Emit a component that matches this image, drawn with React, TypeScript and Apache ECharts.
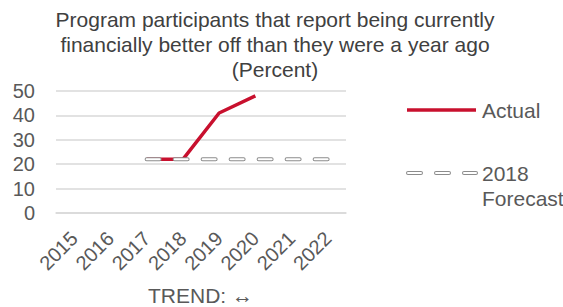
import React, { useEffect, useRef } from "react";
import * as echarts from "echarts";

const years = ["2015", "2016", "2017", "2018", "2019", "2020", "2021", "2022"];
const actual: (number | null)[] = [null, null, 22, 22, 41, 48, null, null];
const forecast: (number | null)[] = [null, null, 22, 22, 22, 22, 22, 22];
const yTicks = { min: 0, max: 50, interval: 10 };
const titleLines = [
  "Program participants that report being currently",
  "financially better off than they were a year ago",
  "(Percent)",
];

const RED = "#c8102e";
const GRAY_TXT = "#595959";
const FONT = "'Liberation Sans', Arial, sans-serif";

export default function App() {
  const ref = useRef<HTMLDivElement>(null);
  useEffect(() => {
    if (!ref.current) return;
    const chart = echarts.init(ref.current, null, { renderer: "svg" });
    const titleY = [19, 44, 69];
    chart.setOption({
      animation: false,
      backgroundColor: "#ffffff",
      textStyle: { fontFamily: FONT },
      grid: { left: 56, right: 217, top: 91, bottom: 94, containLabel: false },
      xAxis: {
        type: "category",
        data: years,
        boundaryGap: true,
        axisLine: { show: true, lineStyle: { color: "#d9d9d9", width: 1.5 } },
        axisTick: { show: false },
        axisLabel: { rotate: 45, fontSize: 20, color: GRAY_TXT, margin: 22, fontFamily: FONT, interval: 0 },
      },
      yAxis: {
        type: "value",
        min: yTicks.min,
        max: yTicks.max,
        interval: yTicks.interval,
        axisLine: { show: false },
        axisTick: { show: false },
        splitLine: { lineStyle: { color: "#d9d9d9", width: 1.5 } },
        axisLabel: { fontSize: 20, color: GRAY_TXT, margin: 21, fontFamily: FONT },
      },
      series: [
        {
          name: "Actual",
          type: "line",
          data: actual,
          showSymbol: false,
          lineStyle: { color: RED, width: 3.5 },
          itemStyle: { color: RED },
          z: 2,
        },
        {
          name: "2018 Forecast outline",
          type: "line",
          data: forecast,
          showSymbol: false,
          lineStyle: { color: "#8c8c8c", width: 4, type: [13, 15], cap: "round" },
          z: 3,
        },
        {
          name: "2018 Forecast",
          type: "line",
          data: forecast,
          showSymbol: false,
          lineStyle: { color: "#ffffff", width: 2, type: [13, 15], cap: "round" },
          z: 4,
        },
      ],
      graphic: [
        ...titleLines.map((t, i) => ({
          type: "text",
          x: 275,
          y: titleY[i],
          style: { text: t, fill: "#404040", textAlign: "center", textVerticalAlign: "middle", font: `21px ${FONT}` },
        })),
        {
          type: "line",
          shape: { x1: 407, y1: 110, x2: 476, y2: 110 },
          style: { stroke: RED, lineWidth: 3.5 },
        },
        {
          type: "text",
          x: 482,
          y: 110,
          style: { text: "Actual", fill: GRAY_TXT, textVerticalAlign: "middle", font: `21px ${FONT}` },
        },
        {
          type: "line",
          shape: { x1: 408, y1: 173, x2: 476, y2: 173 },
          style: { stroke: "#8c8c8c", lineWidth: 4, lineDash: [13, 15], lineCap: "round" },
        },
        {
          type: "line",
          shape: { x1: 408, y1: 173, x2: 476, y2: 173 },
          style: { stroke: "#ffffff", lineWidth: 2, lineDash: [13, 15], lineCap: "round" },
        },
        {
          type: "text",
          x: 482,
          y: 173,
          style: { text: "2018", fill: GRAY_TXT, textVerticalAlign: "middle", font: `21px ${FONT}` },
        },
        {
          type: "text",
          x: 482,
          y: 198,
          style: { text: "Forecast", fill: GRAY_TXT, textVerticalAlign: "middle", font: `21px ${FONT}` },
        },
        {
          type: "text",
          x: 148,
          y: 295,
          style: { text: "TREND: \u2194", fill: GRAY_TXT, textAlign: "left", textVerticalAlign: "middle", font: `21px ${FONT}` },
        },
      ],
    });
    return () => chart.dispose();
  }, []);
  return <div ref={ref} style={{ width: 563, height: 307, position: "absolute", left: 0, top: 0 }} />;
}
